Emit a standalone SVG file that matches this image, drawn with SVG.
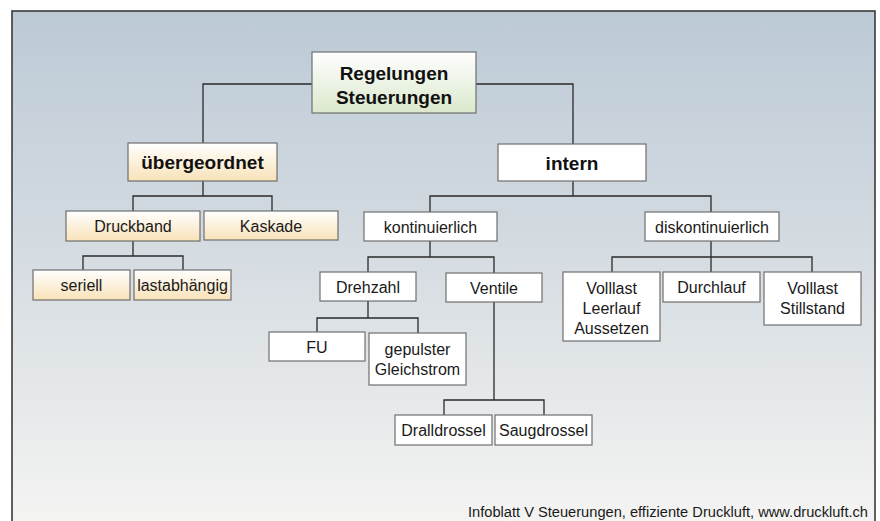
<svg xmlns="http://www.w3.org/2000/svg" width="880" height="521" viewBox="0 0 880 521">
<defs>
<linearGradient id="bg" x1="0" y1="0" x2="0" y2="1">
<stop offset="0" stop-color="#bccad6"/>
<stop offset="0.45" stop-color="#d4dbe1"/>
<stop offset="1" stop-color="#f5f5f3"/>
</linearGradient>
<linearGradient id="gold" x1="0" y1="0" x2="0" y2="1">
<stop offset="0" stop-color="#ffffff"/>
<stop offset="1" stop-color="#f8e2b8"/>
</linearGradient>
<linearGradient id="green" x1="0" y1="0" x2="0" y2="1">
<stop offset="0" stop-color="#ffffff"/>
<stop offset="1" stop-color="#dbe8cc"/>
</linearGradient>
</defs>
<style>
.box{stroke:#6f6f6f;stroke-width:1.2}
.w{fill:#ffffff}
.g{fill:url(#gold)}
.t{font-family:"Liberation Sans",Arial,sans-serif;font-size:16px;fill:#1a1a1a;text-anchor:middle}
.b{font-family:"Liberation Sans",Arial,sans-serif;font-size:19px;font-weight:bold;fill:#111;text-anchor:middle}
.c{fill:none;stroke:#2a2a2a;stroke-width:1.3}
</style>
<rect x="0" y="0" width="880" height="521" fill="#ffffff"/>
<rect x="12" y="11" width="863" height="520" fill="url(#bg)" stroke="#3a3a3a" stroke-width="1.6"/>
<g id="connectors" class="c">
<path d="M312 84 H203 V143 M476 84 H573 V144"/>
<path d="M203 181 V196 M133 211 V196 H272 V211"/>
<path d="M133 241 V256 M83 270 V256 H183 V270"/>
<path d="M573 181 V196 M430 212 V196 H711 V212"/>
<path d="M430 241 V257 M368 272 V257 H494 V273"/>
<path d="M368 301 V318 M317 332 V318 H418 V333"/>
<path d="M494 302 V400 M444 415 V400 H544 V415"/>
<path d="M711 241 V257 M612 272 V257 H812 V272 M711 257 V272"/>
</g>
<g id="n-regelungen"><rect class="box" x="312" y="52" width="164" height="61" fill="url(#green)"/><text class="b" x="394" y="80">Regelungen</text><text class="b" x="394" y="104">Steuerungen</text></g>
<g id="n-uebergeordnet"><rect class="box g" x="128" y="143" width="149" height="38"/><text class="b" x="202.5" y="169">übergeordnet</text></g>
<g id="n-intern"><rect class="box w" x="498" y="144" width="148" height="37"/><text class="b" x="572" y="170">intern</text></g>
<g id="n-druckband"><rect class="box g" x="66" y="211" width="134" height="30"/><text class="t" x="133" y="232">Druckband</text></g>
<g id="n-kaskade"><rect class="box g" x="204" y="211" width="134" height="29"/><text class="t" x="271" y="232">Kaskade</text></g>
<g id="n-seriell"><rect class="box g" x="33" y="270" width="97" height="30"/><text class="t" x="81.5" y="291">seriell</text></g>
<g id="n-lastabhaengig"><rect class="box g" x="134" y="270" width="97" height="30"/><text class="t" x="182.5" y="291">lastabhängig</text></g>
<g id="n-kontinuierlich"><rect class="box w" x="364" y="212" width="133" height="29"/><text class="t" x="430.5" y="233">kontinuierlich</text></g>
<g id="n-diskontinuierlich"><rect class="box w" x="645" y="212" width="134" height="29"/><text class="t" x="712" y="233">diskontinuierlich</text></g>
<g id="n-drehzahl"><rect class="box w" x="320" y="272" width="96" height="29"/><text class="t" x="368" y="293">Drehzahl</text></g>
<g id="n-ventile"><rect class="box w" x="446" y="273" width="96" height="29"/><text class="t" x="494" y="294">Ventile</text></g>
<g id="n-fu"><rect class="box w" x="269" y="332" width="96" height="29"/><text class="t" x="317" y="353">FU</text></g>
<g id="n-gepulster"><rect class="box w" x="369" y="333" width="97" height="52"/><text class="t" x="417.5" y="355">gepulster</text><text class="t" x="417.5" y="375">Gleichstrom</text></g>
<g id="n-dralldrossel"><rect class="box w" x="395" y="415" width="97" height="30"/><text class="t" x="443.5" y="436">Dralldrossel</text></g>
<g id="n-saugdrossel"><rect class="box w" x="495" y="415" width="97" height="30"/><text class="t" x="543.5" y="436">Saugdrossel</text></g>
<g id="n-volllast-leerlauf"><rect class="box w" x="563" y="272" width="97" height="69"/><text class="t" x="611.5" y="294">Volllast</text><text class="t" x="611.5" y="314">Leerlauf</text><text class="t" x="611.5" y="334">Aussetzen</text></g>
<g id="n-durchlauf"><rect class="box w" x="663" y="272" width="97" height="30"/><text class="t" x="711.5" y="293">Durchlauf</text></g>
<g id="n-volllast-stillstand"><rect class="box w" x="764" y="272" width="97" height="53"/><text class="t" x="812.5" y="294">Volllast</text><text class="t" x="812.5" y="314">Stillstand</text></g>
<text x="468" y="517" font-family="Liberation Sans, Arial, sans-serif" font-size="14" fill="#1a1a1a" textLength="400" lengthAdjust="spacingAndGlyphs">Infoblatt V Steuerungen, effiziente Druckluft, www.druckluft.ch</text>
</svg>
